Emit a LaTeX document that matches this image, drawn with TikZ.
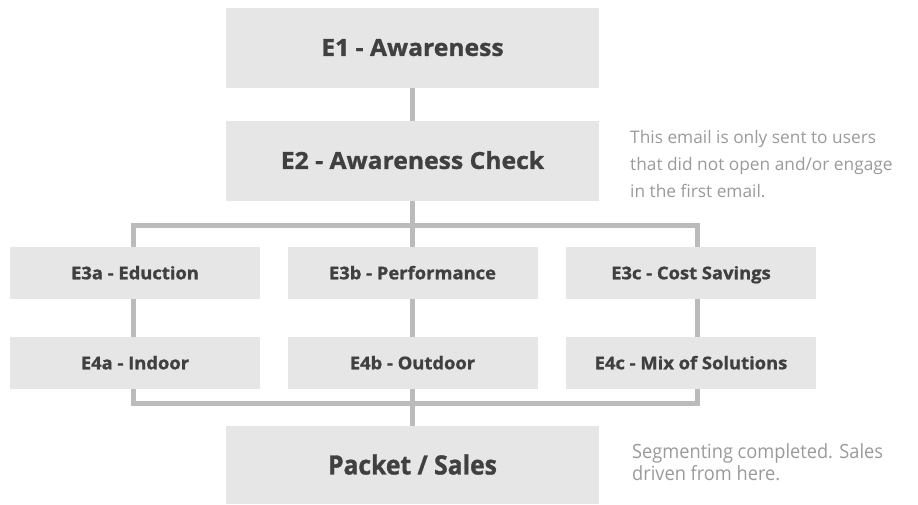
\documentclass[tikz,border=0pt]{standalone}
\usepackage{fontspec}
\setmainfont{Open Sans}[BoldFeatures={FakeBold=1.2,FakeStretch=1.05}]
\newfontfamily\narrowfont{Open Sans}[FakeStretch=0.93,BoldFeatures={FakeBold=1.2,FakeStretch=0.93}]
\usetikzlibrary{backgrounds}
\definecolor{boxgray}{HTML}{E6E6E6}
\definecolor{linegray}{HTML}{BBBBBB}
\definecolor{textdark}{HTML}{404040}
\definecolor{notegray}{HTML}{9A9A9A}
\begin{document}
\begin{tikzpicture}[x=1pt,y=-1pt,
	email/.style={fill=boxgray,text=textdark,inner sep=0pt,minimum width=373pt,minimum height=80pt,text height=16.8pt,text depth=0pt,font=\bfseries\fontsize{23.5}{28}\selectfont},
	branch/.style={fill=boxgray,text=textdark,inner sep=0pt,minimum width=250pt,minimum height=52pt,text height=12.5pt,text depth=0pt,font=\bfseries\fontsize{17.5}{21}\selectfont},
	link/.style={draw=linegray,line width=5pt},
	note/.style={text=notegray,inner sep=0pt,anchor=north west,align=left}]
	\useasboundingbox (0,0) rectangle (918,504);
	\node[email] (e1) at (412.5,47.5) {E1 - Awareness};
	\node[email] (e2) at (412.5,160.5) {E2 - Awareness Check};
	\node[branch] (e3a) at (135,273) {E3a - Eduction};
	\node[branch] (e3b) at (412.5,273) {E3b - Performance};
	\node[branch] (e3c) at (691,273) {E3c - Cost Savings};
	\node[branch] (e4a) at (135,363) {E4a - Indoor};
	\node[branch] (e4b) at (412.5,363) {E4b - Outdoor};
	\node[branch] (e4c) at (691,363) {E4c - Mix of Solutions};
	\node[email,minimum height=78pt,text height=18.9pt,font=\narrowfont\bfseries\fontsize{26.5}{30}\selectfont] (sales) at (412.5,465) {Packet / Sales};
	\coordinate (tl) at (133,225);
	\coordinate (br) at (697,403);
	\node[note,font=\fontsize{17.3}{27}\selectfont] (note2) at (630,130) {This email is only sent to users\\that did not open and/or engage\\in the first email.};
	\node[note,font=\narrowfont\fontsize{19.6}{22}\selectfont] (note5) at (632,443) {Segmenting completed. Sales\\driven from here.};
	\begin{scope}[on background layer]
		\draw[link] (tl) rectangle (br);
		\draw[link] (e1) -- (sales);
		\draw[link] (tl) -- (tl |- br);
		\draw[link] (br |- tl) -- (br);
	\end{scope}
\end{tikzpicture}
\end{document}
